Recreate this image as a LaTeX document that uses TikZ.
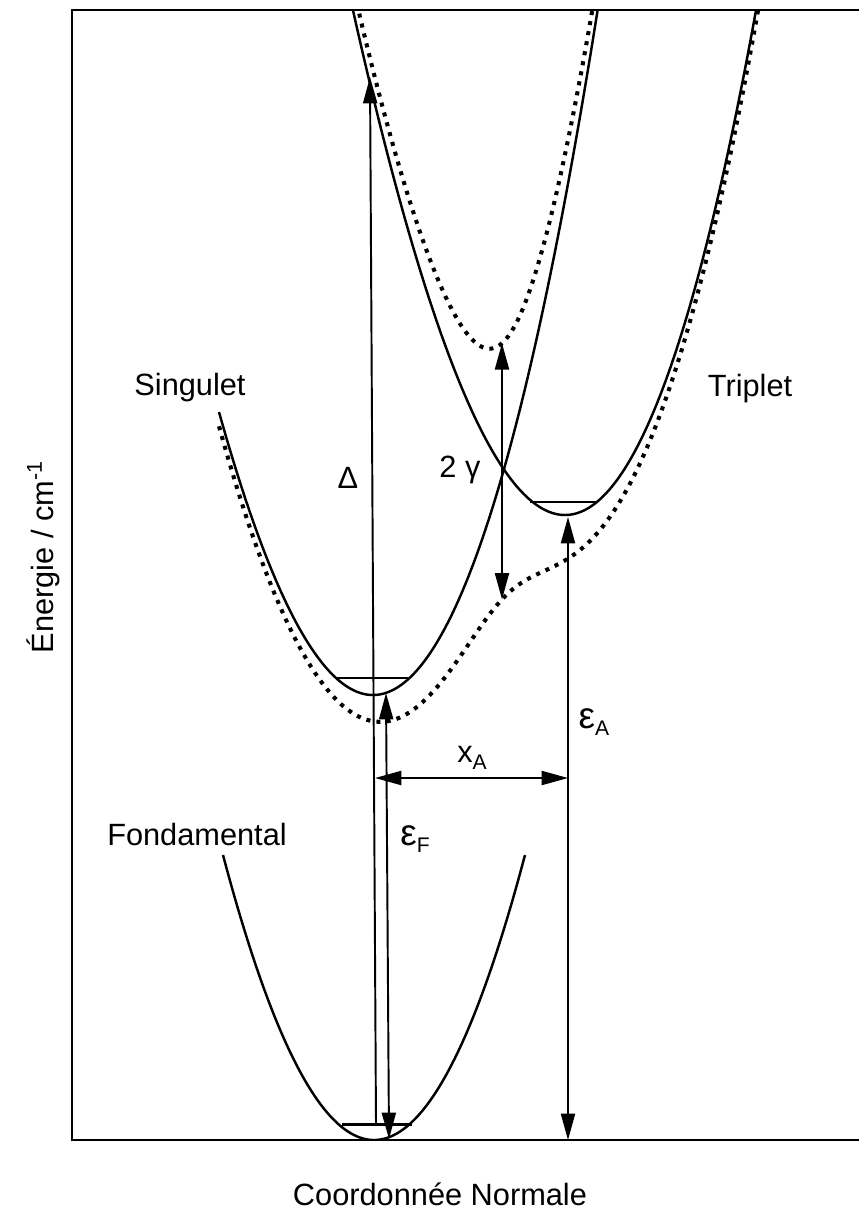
\documentclass[tikz,border=0pt]{standalone}
\usepackage{fontspec}
\setmainfont{Liberation Sans}
\usepackage{tikz}
\usetikzlibrary{arrows.meta}
\newcommand{\lowidx}[1]{\raisebox{-4.5pt}{\fontsize{12}{12}\selectfont #1}}
\newcommand{\epsgl}{{\fontsize{21}{21}\selectfont ε}}
\tikzset{
  curve/.style={line width=1.4pt},
  adiab/.style={line width=2.3pt, dash pattern=on 2.3pt off 3.5pt},
  level/.style={line width=1.3pt},
  arr/.style={line width=1.1pt, -{Triangle[length=15pt,width=8pt]}},
  darr/.style={line width=1.1pt, {Triangle[length=15pt,width=8pt]}-{Triangle[length=15pt,width=8pt]}},
  lbl/.style={font=\fontsize{17.5}{20}\selectfont, inner sep=0pt, anchor=base},
  declare function={
    sng(\x)=6.95-1.26*(\x-3.73)*(\x-3.73)-0.0434*(\x-3.73)*(\x-3.73)*(\x-3.73);
    trp(\x)=5.15-1.26*(\x-5.65)*(\x-5.65)-0.0647*(\x-5.65)*(\x-5.65)*(\x-5.65);
    gnd(\x)=11.40-1.25*(\x-3.74)*(\x-3.74);
    hlf(\x)=0.5*(sng(\x)-trp(\x));
    lowr(\x)=0.5*(sng(\x)+trp(\x))+sqrt(hlf(\x)*hlf(\x)+1.28*1.28);
    uppr(\x)=0.5*(sng(\x)+trp(\x))-sqrt(hlf(\x)*hlf(\x)+1.28*1.28);
  }}

\begin{document}
\begin{tikzpicture}[x=2cm, y=-2cm]
  \useasboundingbox (0,0) rectangle (8.58,12.15);
  % frame
  \draw[line width=1.6pt] (8.7,0.10) -- (0.72,0.10) -- (0.72,11.40) -- (8.7,11.40);
  % potential curves
  \begin{scope}
    \clip (0.72,0.10) rectangle (8.7,11.40);
    \draw[curve] plot[domain=2.19:6.0, samples=160] (\x,{sng(\x)});
    \draw[curve] plot[domain=3.5:7.62, samples=160] (\x,{trp(\x)});
    \draw[curve] plot[domain=2.23:5.25, samples=100] (\x,{gnd(\x)});
    \draw[adiab] plot[domain=3.5:6.0, samples=200] (\x,{uppr(\x)});
    \draw[adiab] plot[domain=2.19:7.7, samples=240] (\x,{lowr(\x)});
  \end{scope}
  % vibrational levels
  \coordinate (sL) at (3.37,6.78); \coordinate (sR) at (4.10,6.78);
  \coordinate (tL) at (5.30,5.02); \coordinate (tR) at (5.97,5.02);
  \coordinate (fL) at (3.42,11.245); \coordinate (fR) at (4.12,11.245);
  \draw[level] (sL) -- (sR);
  \draw[level] (tL) -- (tR);
  \draw[level] (fL) -- (fR);
  % transitions
  \coordinate (dB) at (3.76,11.245); \coordinate (dT) at (3.70,0.77);
  \coordinate (eFT) at (3.86,6.93); \coordinate (eFB) at (3.89,11.39);
  \coordinate (xL) at (3.75,7.78); \coordinate (xR) at (5.68,7.78);
  \coordinate (eAT) at (5.68,5.17); \coordinate (eAB) at (5.68,11.40);
  \coordinate (gU) at (5.02,{uppr(5.02)}); \coordinate (gD) at (5.02,{lowr(5.02)});
  \draw[arr] (dB) -- (dT);
  \draw[darr] (eFT) -- (eFB);
  \draw[darr] (xL) -- (xR);
  \draw[darr] (eAT) -- (eAB);
  \draw[darr] (gU) -- (gD);
  % labels
  \node[lbl] (sing) at (1.90,3.95) {Singulet};
  \node[lbl] (trip) at (7.50,3.96) {Triplet};
  \node[lbl] (fond) at (1.97,8.45) {Fondamental};
  \node[lbl] (delta) at (3.48,4.88) {Δ};
  \node[lbl] (gam) at (4.60,4.77) {2 γ};
  \node[lbl] (epsA) at (5.94,7.28) {\epsgl\lowidx{A}};
  \node[lbl] (xA) at (4.72,7.62) {x\lowidx{A}};
  \node[lbl] (epsF) at (4.15,8.45) {\epsgl\lowidx{F}};
  \node[lbl, rotate=90] (ylab) at (0.53,5.57) {Énergie / cm\textsuperscript{-1}};
  \node[lbl] (xlab) at (4.40,12.05) {Coordonnée Normale};
\end{tikzpicture}
\end{document}
